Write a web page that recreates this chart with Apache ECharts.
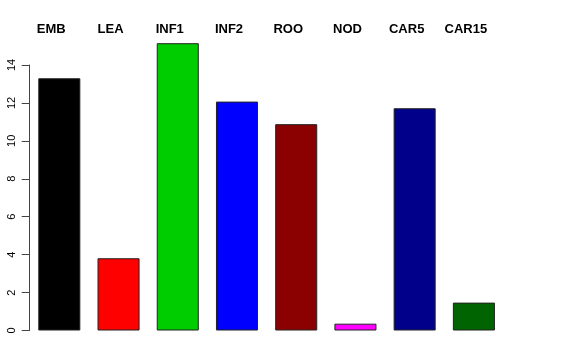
<!DOCTYPE html>
<html>
<head>
<meta charset="utf-8">
<script src="https://cdn.jsdelivr.net/npm/echarts@6/dist/echarts.min.js"></script>
<style>
html,body{margin:0;padding:0;background:#fff;}
#chart{width:576px;height:360px;}
</style>
</head>
<body>
<div id="chart"></div>
<script>
var categories = ['EMB', 'LEA', 'INF1', 'INF2', 'ROO', 'NOD', 'CAR5', 'CAR15'];
var values = [13.30, 3.81, 15.15, 12.07, 10.88, 0.36, 11.72, 1.47];
var barColors = ['#000000', '#FF0000', '#00CD00', '#0000FF', '#8B0000', '#FF00FF', '#00008B', '#006400'];
var yTicks = [0, 2, 4, 6, 8, 10, 12, 14];

var chart = echarts.init(document.getElementById('chart'), null, {renderer: 'canvas'});
chart.setOption({
  animation: false,
  backgroundColor: '#ffffff',
  grid: {left: 29.7, right: 72.5, top: 65, bottom: 29.5, containLabel: false},
  xAxis: {
    type: 'category',
    data: categories,
    position: 'top',
    boundaryGap: true,
    axisLine: {show: false},
    axisTick: {show: false},
    splitLine: {show: false},
    axisLabel: {
      show: true,
      interval: 0,
      fontFamily: 'Liberation Sans, Arial, sans-serif',
      fontWeight: 'bold',
      fontSize: 13,
      color: '#000',
      margin: 29,
      padding: [0, 16, 0, 0]
    }
  },
  yAxis: {
    type: 'value',
    min: yTicks[0],
    max: yTicks[yTicks.length - 1],
    interval: 2,
    splitLine: {show: false},
    axisLine: {show: true, lineStyle: {color: '#444', width: 1}},
    axisTick: {show: true, length: 8, lineStyle: {color: '#444', width: 1}},
    axisLabel: {
      rotate: 90,
      fontFamily: 'Liberation Sans, Arial, sans-serif',
      fontSize: 11,
      color: '#000',
      margin: 12
    }
  },
  series: [{
    type: 'bar',
    clip: false,
    barWidth: '71%',
    data: values.map(function (v, i) {
      return {value: v, itemStyle: {color: barColors[i]}};
    }),
    itemStyle: {borderColor: '#222', borderWidth: 1}
  }]
});
</script>
</body>
</html>
